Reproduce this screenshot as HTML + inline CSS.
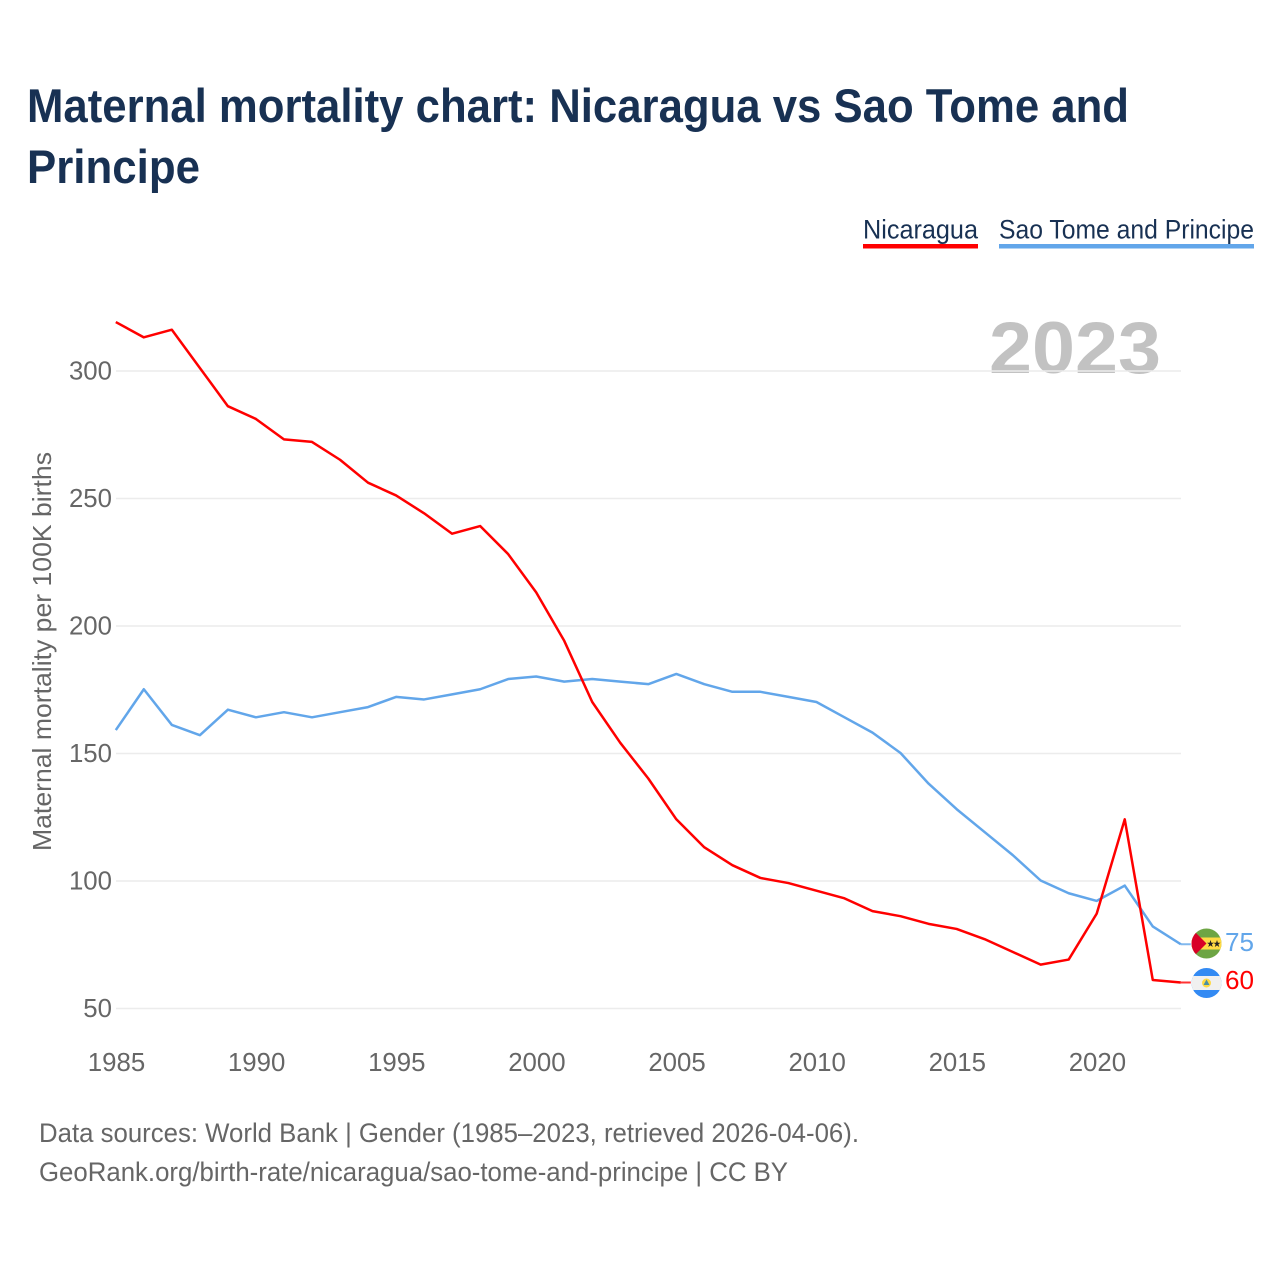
<!DOCTYPE html>
<html lang="en">
<head>
<meta charset="utf-8">
<title>Maternal mortality chart: Nicaragua vs Sao Tome and Principe</title>
<style>
html,body{margin:0;padding:0;background:#fff;width:1280px;height:1280px;overflow:hidden}
svg{display:block}
text{font-family:"Liberation Sans",sans-serif}
</style>
</head>
<body>
<svg id="chart" width="1280" height="1280" viewBox="0 0 1280 1280" xmlns="http://www.w3.org/2000/svg">
  <rect width="1280" height="1280" fill="#fff"/>
  <text x="27" y="122" font-size="47" font-weight="700" fill="#183153" textLength="1102" lengthAdjust="spacingAndGlyphs">Maternal mortality chart: Nicaragua vs Sao Tome and</text>
  <text x="27" y="183" font-size="47" font-weight="700" fill="#183153" textLength="173" lengthAdjust="spacingAndGlyphs">Principe</text>

  <g>
    <text x="863" y="238.5" font-size="27" fill="#183153" textLength="115" lengthAdjust="spacingAndGlyphs">Nicaragua</text>
    <rect x="863" y="244" width="115" height="4.5" fill="#ff0000"/>
  </g>
  <g>
    <text x="999" y="238.5" font-size="27" fill="#183153" textLength="255" lengthAdjust="spacingAndGlyphs">Sao Tome and Principe</text>
    <rect x="999" y="244" width="255" height="4.5" fill="#62a6ea"/>
  </g>

  <text x="989" y="373" font-size="73" font-weight="700" fill="#c2c2c2" textLength="172" lengthAdjust="spacingAndGlyphs">2023</text>

  <g id="grid"></g>
  <g id="yticks"></g>
  <g id="xticks"></g>
  <text transform="translate(51,851) rotate(-90)" font-size="26" fill="#666" textLength="399" lengthAdjust="spacingAndGlyphs">Maternal mortality per 100K births</text>

  <g id="series"></g>

  <defs>
    <clipPath id="flag-clip-stp"><circle cx="1206.5" cy="943.5" r="15"/></clipPath>
    <clipPath id="flag-clip-nic"><circle cx="1206.5" cy="983" r="15"/></clipPath>
  </defs>

  <g id="flag-stp" clip-path="url(#flag-clip-stp)">
    <rect x="1191" y="928" width="31" height="31" fill="#6da544"/>
    <rect x="1191" y="937.5" width="31" height="12" fill="#ffda44"/>
    <polygon points="1191,928 1206.5,943.5 1191,959" fill="#d80027"/>
    <polygon points="1210.5,940 1211.4,942.7 1214,942.7 1211.9,944.3 1212.7,947 1210.5,945.4 1208.3,947 1209.1,944.3 1207,942.7 1209.6,942.7" fill="#222"/>
    <polygon points="1217,940 1217.9,942.7 1220.5,942.7 1218.4,944.3 1219.2,947 1217,945.4 1214.8,947 1215.6,944.3 1213.5,942.7 1216.1,942.7" fill="#222"/>
  </g>
  <g id="flag-nic" clip-path="url(#flag-clip-nic)">
    <rect x="1191" y="968" width="31" height="30" fill="#338af3"/>
    <rect x="1191" y="976" width="31" height="14" fill="#f0f0f0"/>
    <circle cx="1206.5" cy="983" r="4.5" fill="#ffda44"/>
    <polygon points="1206.5,979.5 1209.5,985 1203.5,985" fill="#4a90a4"/>
  </g>

  <text id="end-label-stp" x="1225" y="951" font-size="26" fill="#62a6ea" textLength="29" lengthAdjust="spacingAndGlyphs">75</text>
  <text id="end-label-nic" x="1225" y="989" font-size="26" fill="#ff0000" textLength="29" lengthAdjust="spacingAndGlyphs">60</text>

  <text x="39" y="1142" font-size="27" fill="#666" textLength="820" lengthAdjust="spacingAndGlyphs">Data sources: World Bank | Gender (1985–2023, retrieved 2026-04-06).</text>
  <text x="39" y="1181" font-size="27" fill="#666" textLength="749" lengthAdjust="spacingAndGlyphs">GeoRank.org/birth-rate/nicaragua/sao-tome-and-principe | CC BY</text>
</svg>
<script>
const startYear = 1985;
const nicaraguaValues = [319,313,316,301,286,281,273,272,265,256,251,244,236,239,228,213,194,170,154,140,124,113,106,101,99,96,93,88,86,83,81,77,72,67,69,87,124,61,60];
const saoTomeValues = [159,175,161,157,167,164,166,164,166,168,172,171,173,175,179,180,178,179,178,177,181,177,174,174,172,170,164,158,150,138,128,119,110,100,95,92,98,82,75];
const yTickValues = [50,100,150,200,250,300];
const xTickValues = [1985,1990,1995,2000,2005,2010,2015,2020];

const NS = 'http://www.w3.org/2000/svg';
const xScale = year => 115.8 + (year - 1985) * 28.026;
const yScale = value => 1008 - (value - 50) * 2.55;

const grid = document.getElementById('grid');
const yticks = document.getElementById('yticks');
const xticks = document.getElementById('xticks');
const series = document.getElementById('series');

yTickValues.forEach(v => {
  const line = document.createElementNS(NS, 'line');
  
  
  line.setAttribute('x1', 116);
  line.setAttribute('x2', 1181);
  line.setAttribute('y1', yScale(v) + 0.5);
  line.setAttribute('y2', yScale(v) + 0.5);
  line.setAttribute('stroke', '#ececec');
  line.setAttribute('stroke-width', '1.5');
  grid.appendChild(line);

  const label = document.createElementNS(NS, 'text');
  
  
  label.setAttribute('x', 112);
  label.setAttribute('y', yScale(v) + 9);
  label.setAttribute('text-anchor', 'end');
  label.setAttribute('font-size', '25.8');
  label.setAttribute('fill', '#666');
  label.textContent = v;
  yticks.appendChild(label);
});

xTickValues.forEach(y => {
  const label = document.createElementNS(NS, 'text');
  
  
  label.setAttribute('x', xScale(y) + 0.7);
  label.setAttribute('y', 1071);
  label.setAttribute('text-anchor', 'middle');
  label.setAttribute('font-size', '25.8');
  label.setAttribute('fill', '#666');
  label.textContent = y;
  xticks.appendChild(label);
});

function drawLine(values, color, name) {
  const lastYear = startYear + values.length - 1;
  const lastValue = values[values.length - 1];
  const connector = document.createElementNS(NS, 'line');
  
  
  connector.setAttribute('x1', xScale(lastYear));
  connector.setAttribute('x2', xScale(lastYear) + 10);
  connector.setAttribute('y1', yScale(lastValue));
  connector.setAttribute('y2', yScale(lastValue));
  connector.setAttribute('stroke', color);
  connector.setAttribute('stroke-opacity', '0.8');
  connector.setAttribute('stroke-width', '2');
  series.appendChild(connector);

  const path = document.createElementNS(NS, 'path');
  
  
  path.setAttribute('d', values.map((v, i) => (i ? 'L' : 'M') + xScale(startYear + i).toFixed(2) + ' ' + yScale(v).toFixed(2)).join(' '));
  path.setAttribute('fill', 'none');
  path.setAttribute('stroke', color);
  path.setAttribute('stroke-width', '2.5');
  path.setAttribute('stroke-linejoin', 'round');
  series.appendChild(path);
}
drawLine(saoTomeValues, '#62a6ea', 'line-sao-tome-and-principe');
drawLine(nicaraguaValues, '#ff0000', 'line-nicaragua');

document.getElementById('end-label-stp').textContent = saoTomeValues[saoTomeValues.length - 1];
document.getElementById('end-label-nic').textContent = nicaraguaValues[nicaraguaValues.length - 1];
</script>
</body>
</html>
